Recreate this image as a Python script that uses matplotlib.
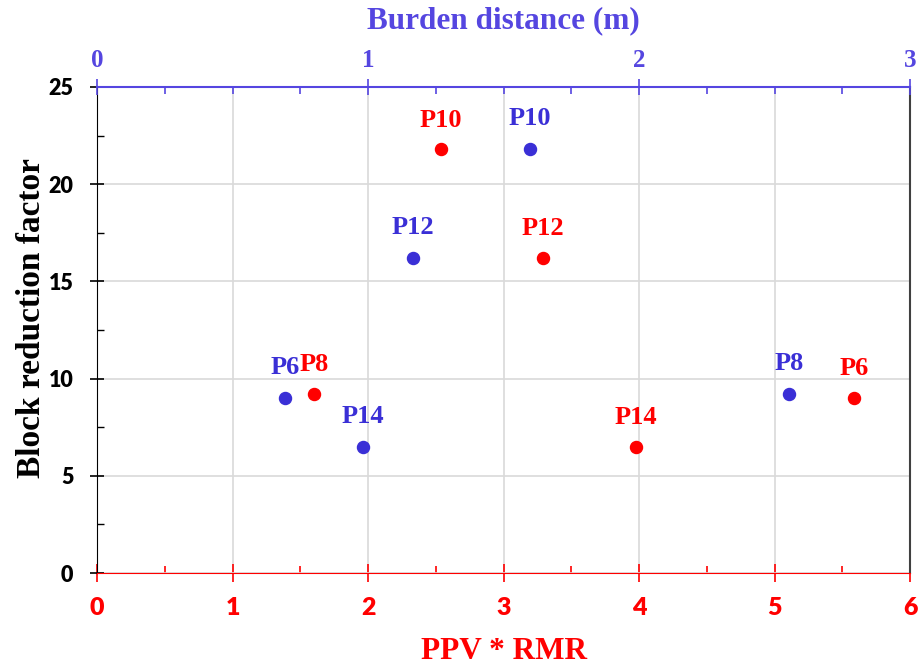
import matplotlib.pyplot as plt
from matplotlib.ticker import MultipleLocator

# points plotted against PPV * RMR (bottom axis, red)
ppv_labels = ["P10", "P12", "P8", "P14", "P6"]
ppv_x = [2.54, 3.29, 1.60, 3.98, 5.59]
ppv_y = [21.8, 16.2, 9.2, 6.5, 9.0]

# points plotted against burden distance (top axis, blue)
burden_labels = ["P6", "P14", "P12", "P10", "P8"]
burden_x = [0.694, 0.98, 1.166, 1.598, 2.553]
burden_y = [9.0, 6.5, 16.2, 21.8, 9.2]

RED = "#ff0000"
BLUE_AX = "#5546e0"
BLUE_PT = "#3a2fd6"
SERIF = "Liberation Serif"
SANS = "Lato"

fig = plt.figure(figsize=(9.18, 6.65), dpi=100)
ax = fig.add_axes([0.1057, 0.1383, 0.8856, 0.7309])

ax.set_xlim(0, 6)
ax.set_ylim(0, 25)
ax.xaxis.set_major_locator(MultipleLocator(1))
ax.xaxis.set_minor_locator(MultipleLocator(0.5))
ax.yaxis.set_major_locator(MultipleLocator(5))
ax.yaxis.set_minor_locator(MultipleLocator(2.5))
ax.grid(True, which="major", color="#d9d9d9", linewidth=1.2)
ax.set_axisbelow(True)

ax.spines["bottom"].set_color(RED)
ax.spines["left"].set_color("black")
ax.spines["right"].set_color("#404040")
ax.spines["right"].set_linewidth(1.5)
ax.spines["top"].set_visible(False)

ax.tick_params(axis="x", which="major", direction="inout", length=13, width=1.2,
               color=RED, labelcolor=RED, labelsize=18, pad=11)
ax.tick_params(axis="x", which="minor", direction="in", length=5, width=1.2, color=RED)
ax.tick_params(axis="y", which="major", direction="inout", length=10, width=1.2,
               color="black", labelsize=15.5, pad=12)
ax.tick_params(axis="y", which="minor", direction="in", length=5, width=1.0)
for lbl in ax.get_xticklabels() + ax.get_yticklabels():
    lbl.set_fontfamily(SANS)
    lbl.set_fontweight("heavy")

ax.set_xlabel("PPV * RMR", color=RED, fontsize=22.5, fontfamily=SERIF,
              fontweight="bold", labelpad=13)
ax.set_ylabel("Block reduction factor", color="black", fontsize=24,
              fontfamily=SERIF, fontweight="bold")
ax.yaxis.set_label_coords(-0.062, 0.525)

ax.scatter(ppv_x, ppv_y, s=75, color=RED, zorder=3, clip_on=False)
for lab, x, y in zip(ppv_labels, ppv_x, ppv_y):
    ax.annotate(lab, (x, y), xytext=(0, 21), textcoords="offset points",
                ha="center", va="center", color=RED, fontsize=19,
                fontfamily=SERIF, fontweight="bold")

ax2 = ax.twiny()
ax2.set_xlim(0, 3)
ax2.xaxis.set_major_locator(MultipleLocator(1))
ax2.xaxis.set_minor_locator(MultipleLocator(0.25))
for side in ["bottom", "left", "right"]:
    ax2.spines[side].set_visible(False)
ax2.spines["top"].set_color(BLUE_AX)
ax2.spines["top"].set_linewidth(1.5)
ax2.tick_params(axis="x", which="major", direction="inout", length=12, width=1.2,
                color=BLUE_AX, labelcolor=BLUE_AX, labelsize=18, pad=5)
ax2.tick_params(axis="x", which="minor", direction="in", length=5, width=1.2,
                color=BLUE_AX)
for lbl in ax2.get_xticklabels():
    lbl.set_fontfamily(SERIF)
    lbl.set_fontweight("bold")
ax2.set_xlabel("Burden distance (m)", color=BLUE_AX, fontsize=22.5,
               fontfamily=SERIF, fontweight="bold", labelpad=15)

ax2.scatter(burden_x, burden_y, s=75, color=BLUE_PT, zorder=3)
for lab, x, y in zip(burden_labels, burden_x, burden_y):
    ax2.annotate(lab, (x, y), xytext=(0, 22), textcoords="offset points",
                 ha="center", va="center", color=BLUE_PT, fontsize=19,
                 fontfamily=SERIF, fontweight="bold")

fig.savefig("out.png", dpi=100)
